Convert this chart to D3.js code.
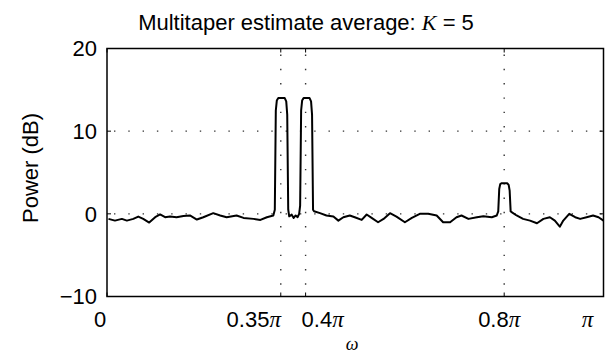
<!DOCTYPE html>
<html>
<head>
<meta charset="utf-8">
<script src="https://cdn.jsdelivr.net/npm/d3@7"></script>
<style>
  html, body { margin: 0; padding: 0; background: #fff; }
  svg { display: block; }
  .sans { font-family: "Liberation Sans", Arial, Helvetica, sans-serif; }
  .math { font-family: "Liberation Serif", "Times New Roman", serif; font-style: italic; }
</style>
</head>
<body>
<svg id="chart" width="608" height="355"></svg>
<script>
// Frequency grid in units of pi, and averaged multitaper power in dB
const omegaOverPi = [
  0.003, 0.016, 0.030, 0.040, 0.053, 0.063, 0.073, 0.085, 0.097, 0.107,
  0.117, 0.127, 0.140, 0.154, 0.167, 0.181, 0.194, 0.214, 0.228, 0.241,
  0.261, 0.275, 0.295, 0.309, 0.322, 0.335,
  0.338, 0.340, 0.342, 0.345, 0.358, 0.361, 0.363, 0.365,
  0.367, 0.372, 0.376, 0.380, 0.384, 0.387,
  0.389, 0.391, 0.393, 0.396, 0.408, 0.411, 0.413, 0.415,
  0.417, 0.429, 0.442, 0.456, 0.466, 0.476, 0.489, 0.499, 0.513, 0.523,
  0.533, 0.546, 0.557, 0.570, 0.583, 0.600, 0.614, 0.630, 0.647, 0.664,
  0.677, 0.691, 0.704, 0.714, 0.728, 0.745, 0.758, 0.775, 0.785,
  0.788, 0.790, 0.792, 0.795, 0.806, 0.809, 0.811, 0.813,
  0.815, 0.825, 0.838, 0.852, 0.866, 0.879, 0.892, 0.902, 0.912, 0.919,
  0.931, 0.943, 0.953, 0.966, 0.979, 0.990, 1.000
];
const powerDb = [
  -0.61, -0.82, -0.61, -0.82, -0.61, -0.33, -0.61, -1.06, -0.41, -0.08,
  -0.41, -0.33, -0.41, -0.25, -0.20, -0.69, -0.41, 0.08, -0.20, -0.41,
  -0.20, -0.49, -0.61, -0.74, -0.41, -0.20,
  0.5, 12.5, 13.7, 14.0, 14.0, 13.6, 12.0, 0.5,
  -0.30, -0.10, -0.50, -0.20, -0.40, 0.00,
  1.0, 12.5, 13.7, 14.0, 14.0, 13.6, 12.0, 0.5,
  0.32, 0.08, -0.20, -0.33, -0.82, -0.41, -0.20, -0.41, -0.73, -0.08,
  -0.49, -1.02, -0.61, 0.08, -0.33, -1.02, -0.49, 0.00, 0.00, -0.20,
  -1.02, -1.02, -0.41, -0.20, -0.61, -0.41, -0.29, -0.41, -0.20,
  0.30, 3.0, 3.6, 3.7, 3.7, 3.5, 2.8, 0.3,
  0.20, -0.20, -0.61, -0.82, -1.14, -0.61, -0.41, -0.82, -1.55, -0.82,
  0.00, -0.41, -0.61, -0.41, -0.20, -0.41, -0.82
];

// Axis ticks
const xTicks = [0, 0.35, 0.4, 0.8, 1];
const xTickLabels = [
  { num: "0", pi: "" },
  { num: "0.35", pi: "\u03c0" },
  { num: "0.4", pi: "\u03c0" },
  { num: "0.8", pi: "\u03c0" },
  { num: "", pi: "\u03c0" }
];
const yTicks = [-10, 0, 10, 20];
const yTickLabels = ["\u221210", "0", "10", "20"];
const xGrid = [0.35, 0.4, 0.8];
const yGrid = [0, 10];

// Layout
const plot = { left: 107, right: 603.5, top: 48.5, bottom: 296.5 };
const xLabelShift = [-7, -27, 17, -5, -16];

const svg = d3.select("#chart");
const x = d3.scaleLinear().domain([0, 1]).range([plot.left, plot.right]);
const y = d3.scaleLinear().domain([-10, 20]).range([plot.bottom, plot.top]);

// Dotted grid
const grid = svg.append("g").attr("stroke", "#333").attr("stroke-width", 1.4)
  .attr("stroke-dasharray", "1.4,12.9").attr("stroke-linecap", "butt");
grid.selectAll("line.gx").data(xGrid).join("line")
  .attr("x1", d => x(d)).attr("x2", d => x(d))
  .attr("y1", plot.top + 6).attr("y2", plot.bottom);
grid.selectAll("line.gy").data(yGrid).join("line")
  .attr("y1", d => y(d)).attr("y2", d => y(d))
  .attr("x1", plot.left + 7).attr("x2", plot.right);

// Inward tick marks on all four sides
const tickLen = 4;
const ticks = svg.append("g").attr("stroke", "#000").attr("stroke-width", 1);
ticks.selectAll("line.tt").data(xTicks).join("line")
  .attr("x1", d => x(d)).attr("x2", d => x(d)).attr("y1", plot.top).attr("y2", plot.top + tickLen);
ticks.selectAll("line.tb").data(xTicks).join("line")
  .attr("x1", d => x(d)).attr("x2", d => x(d)).attr("y1", plot.bottom).attr("y2", plot.bottom - tickLen);
ticks.selectAll("line.tl").data(yTicks).join("line")
  .attr("y1", d => y(d)).attr("y2", d => y(d)).attr("x1", plot.left).attr("x2", plot.left + tickLen);
ticks.selectAll("line.tr").data(yTicks).join("line")
  .attr("y1", d => y(d)).attr("y2", d => y(d)).attr("x1", plot.right).attr("x2", plot.right - tickLen);

// Spectrum curve
const pts = omegaOverPi.map((w, i) => [w, powerDb[i]]);
svg.append("path")
  .datum(pts)
  .attr("fill", "none")
  .attr("stroke", "#000")
  .attr("stroke-width", 2)
  .attr("stroke-linejoin", "round")
  .attr("d", d3.line().x(d => x(d[0])).y(d => y(d[1])));

// Frame
svg.append("rect")
  .attr("x", plot.left).attr("y", plot.top)
  .attr("width", plot.right - plot.left).attr("height", plot.bottom - plot.top)
  .attr("fill", "none").attr("stroke", "#000").attr("stroke-width", 1.5);

// Y tick labels
svg.append("g").selectAll("text").data(yTicks).join("text")
  .attr("class", "sans")
  .attr("x", plot.left - 10)
  .attr("y", d => y(d))
  .attr("dy", "0.36em")
  .attr("text-anchor", "end")
  .attr("font-size", 22)
  .attr("fill", "#000")
  .text((d, i) => yTickLabels[i]);

// X tick labels (number in sans, pi in italic serif)
const xl = svg.append("g").selectAll("text").data(xTicks).join("text")
  .attr("class", "sans")
  .attr("x", (d, i) => x(d) + xLabelShift[i])
  .attr("y", 327)
  .attr("text-anchor", "middle")
  .attr("font-size", 22)
  .attr("fill", "#000");
xl.append("tspan").text((d, i) => xTickLabels[i].num);
xl.append("tspan").attr("class", "math").attr("font-size", 23)
  .text((d, i) => xTickLabels[i].pi);

// Axis titles
svg.append("text")
  .attr("class", "sans")
  .attr("transform", "translate(38,168) rotate(-90)")
  .attr("text-anchor", "middle")
  .attr("font-size", 22)
  .attr("fill", "#000")
  .text("Power (dB)");

svg.append("text")
  .attr("class", "math")
  .attr("x", 352).attr("y", 350)
  .attr("text-anchor", "middle")
  .attr("font-size", 18)
  .attr("fill", "#000")
  .text("\u03c9");

// Title
const title = svg.append("text")
  .attr("class", "sans")
  .attr("x", 306).attr("y", 30)
  .attr("text-anchor", "middle")
  .attr("font-size", 22)
  .attr("fill", "#000");
title.append("tspan").text("Multitaper estimate average: ");
title.append("tspan").attr("class", "math").text("K");
title.append("tspan").text(" = 5");
</script>
</body>
</html>
